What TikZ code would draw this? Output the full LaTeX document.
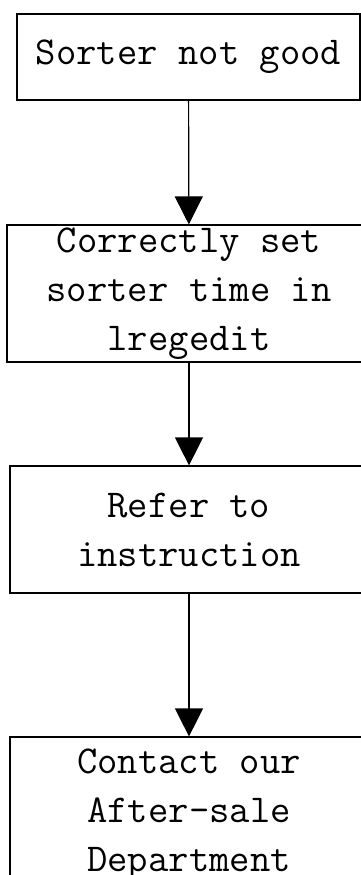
\documentclass[tikz,border=0pt]{standalone}
\usepackage{fontspec}
\usepackage{tikz}
\usetikzlibrary{arrows.meta}

\tikzset{
    stepbox/.style={draw, line width=1.2pt, align=center, inner sep=0pt,
        font=\fontsize{39.5}{49}\selectfont\ttfamily},
    flow/.style={line width=1.2pt, -{Triangle[width=28pt,length=28pt]}}
}

\begin{document}
\begin{tikzpicture}[x=1pt,y=-1pt]
    \useasboundingbox (0,0) rectangle (361,875);
    \clip (0,0) rectangle (361,875);

    \node[stepbox, minimum width=343pt, minimum height=86pt] (bad) at (188.5,57) {Sorter not good};
    \node[stepbox, minimum width=364pt, minimum height=137pt] (set) at (189,293.5) {Correctly set\\sorter time in\\lregedit};
    \node[stepbox, minimum width=358pt, minimum height=127pt] (refer) at (189,529.5) {Refer to\\instruction};
    \node[stepbox, minimum width=358pt, minimum height=156pt] (contact) at (189,815) {Contact our\\After-sale\\Department};

    \draw[flow] (bad) -- (set);
    \draw[flow] (set) -- (refer);
    \draw[flow] (refer) -- (contact);
\end{tikzpicture}
\end{document}
